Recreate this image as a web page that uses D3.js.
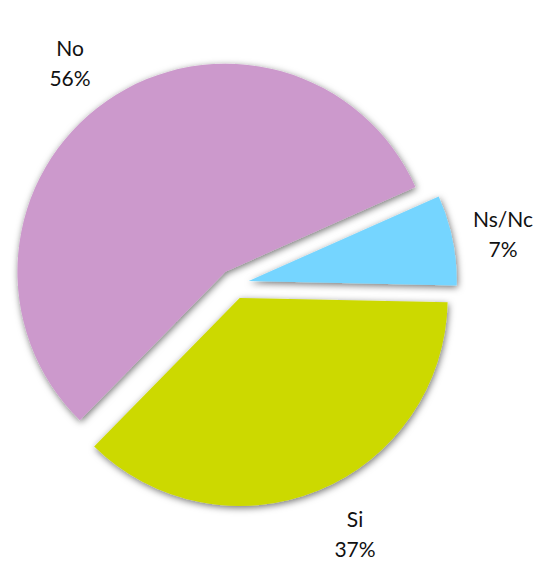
<!DOCTYPE html>
<html>
<head>
<meta charset="utf-8">
<script src="https://d3js.org/d3.v7.min.js"></script>
<style>
  body { margin: 0; background: #fff; }
  .lbl { font-family: Lato, "Open Sans", sans-serif; font-size: 21px; fill: #111; }
</style>
</head>
<body>
<svg width="542" height="561"></svg>
<script>
// data
var categories = ["Ns/Nc", "Si", "No"];
var values = [7, 37, 56];
var labels = ["7%", "37%", "56%"];
var colors = ["#75D5FF", "#CCD900", "#CC99CC"];

var svg = d3.select("svg"),
    cx = 234, cy = 284,
    radius = 208,
    explode = 15;

var defs = svg.append("defs");
var f = defs.append("filter").attr("id", "shadow")
  .attr("x", "-20%").attr("y", "-20%").attr("width", "140%").attr("height", "140%");
f.append("feDropShadow")
  .attr("dx", 1).attr("dy", 2).attr("stdDeviation", 3.5)
  .attr("flood-color", "#000").attr("flood-opacity", 0.55);

var startDeg = 66;
var pie = d3.pie().sort(null)
  .startAngle(startDeg * Math.PI / 180)
  .endAngle((startDeg + 360) * Math.PI / 180);

var arc = d3.arc().innerRadius(0).outerRadius(radius);
var arcs = pie(values);

var g = svg.append("g").attr("transform", "translate(" + cx + "," + cy + ")");

g.selectAll("path")
  .data(arcs)
  .enter()
  .append("path")
  .attr("d", arc)
  .attr("fill", function(d, i) { return colors[i]; })
  .attr("filter", "url(#shadow)")
  .attr("transform", function(d) {
    var a = (d.startAngle + d.endAngle) / 2;
    return "translate(" + (Math.sin(a) * explode) + "," + (-Math.cos(a) * explode) + ")";
  });

// label positions (outside the pie)
var labelPos = [[269, -57], [121, 243], [-164, -228]];

var t = g.selectAll(".lbl")
  .data(arcs)
  .enter()
  .append("text")
  .attr("class", "lbl")
  .attr("text-anchor", "middle")
  .attr("transform", function(d, i) { return "translate(" + labelPos[i][0] + "," + labelPos[i][1] + ")"; });

t.append("tspan").attr("x", 0).attr("dy", 0).text(function(d, i) { return categories[i]; });
t.append("tspan").attr("x", 0).attr("dy", 30).text(function(d, i) { return labels[i]; });
</script>
</body>
</html>
